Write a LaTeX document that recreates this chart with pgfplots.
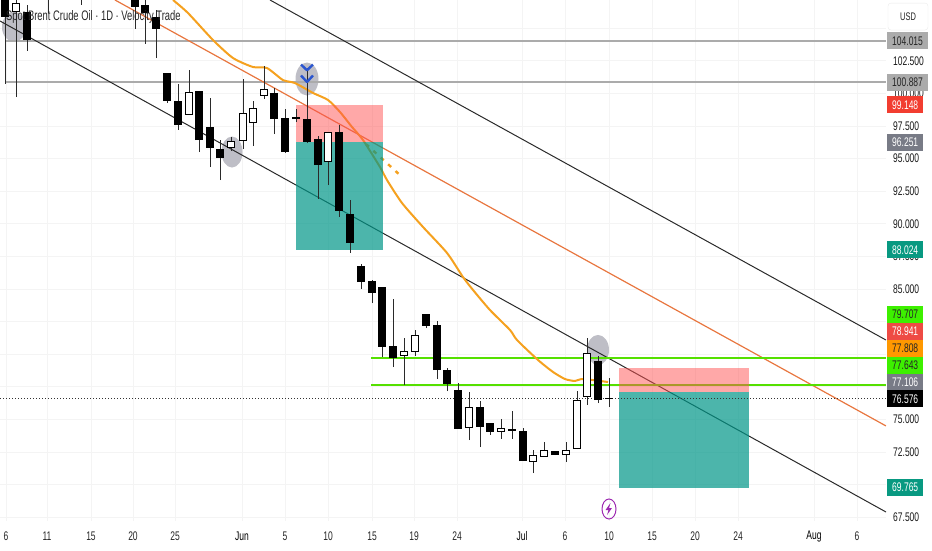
\documentclass[border=0pt]{standalone}
\usepackage{pgfplots}
\usepackage{pgfplotstable}
\usepackage{fontspec}
\setmainfont{Liberation Sans}[FakeStretch=0.68]
\pgfplotsset{compat=1.18}
\definecolor{gridc}{HTML}{F4F4F4}
\definecolor{wick}{HTML}{2A2A2A}
\definecolor{ma}{HTML}{F5A11F}
\definecolor{chan}{HTML}{E8763F}
\definecolor{lime}{HTML}{55E000}
\definecolor{greyl}{HTML}{ABABAB}
\definecolor{bluec}{HTML}{2A55D0}
\definecolor{purp}{HTML}{9C27B0}
\definecolor{teal2}{HTML}{009688}
\definecolor{red2}{HTML}{FF5252}
\definecolor{blob}{HTML}{BEBEC6}
\definecolor{lblgreen}{HTML}{089981}
\definecolor{lblgrey}{HTML}{787B86}
\definecolor{lblred}{HTML}{F23D30}
\definecolor{lblred2}{HTML}{EE4B44}
\definecolor{lblorange}{HTML}{FF9800}
\definecolor{lbllime}{HTML}{3DF000}
\pgfplotstableread{
x top bot hi lo
5 108.00 105.87 108.50 100.73
27 106.25 104.10 106.79 103.26
48 110 108 110 106.17
81 110 108 110 106.79
135 107.40 106.63 108.00 104.95
145 106.79 106.17 108.00 103.80
156 105.87 104.95 106.40 102.72
167 101.57 99.42 101.57 99.27
178 99.42 97.58 100.73 97.20
199 100.19 96.43 100.19 95.51
210 97.43 95.82 99.65 94.36
220 95.74 95.05 96.43 93.36
274 100.04 98.04 100.42 96.89
285 98.12 95.51 98.81 95.44
296 98.16 98.04 98.81 97.81
307 98.04 96.28 101.95 96.20
318 96.51 94.51 96.74 91.91
339 97.05 90.99 97.58 90.53
350 90.76 88.53 91.83 87.77
361 86.77 85.54 86.92 85.00
372 85.62 84.70 85.69 83.93
382 85.16 80.56 85.16 79.79
393 80.63 79.71 84.24 79.02
426 83.09 82.17 83.09 82.01
437 82.24 78.79 82.55 78.10
447 78.79 77.72 78.94 77.18
458 77.26 74.27 77.79 74.27
480 75.95 74.42 76.41 72.88
490 74.73 74.04 74.73 73.81
512 74.23 74.15 75.65 73.50
523 74.11 71.81 74.34 71.81
555 72.58 72.27 72.58 72.27
598 79.48 76.49 79.86 76.26
609 76.68 76.60 78.18 75.95
}\blackT
\pgfplotstableread{
x top bot hi lo
16 106.94 106.25 108.00 99.73
189 100.11 98.35 101.80 98.35
231 96.36 95.82 96.66 95.59
243 98.50 96.36 101.11 95.74
253 98.89 97.74 99.42 95.97
264 100.34 99.81 102.11 99.58
328 97.05 94.74 97.05 92.98
404 80.25 79.86 81.25 77.64
415 81.48 80.17 81.86 79.86
469 75.95 74.34 77.10 73.42
501 74.34 74.04 75.03 73.50
533 72.27 71.73 72.66 70.89
544 72.66 72.12 73.27 72.12
566 72.66 72.27 73.27 71.73
577 76.49 72.73 77.18 72.73
587 80.09 76.72 81.25 76.11
}\whiteT
\newcommand{\pricebox}[4]{\node[fill=#2,text=#3,anchor=west,inner xsep=5pt,inner ysep=0pt,minimum height=17pt,font=\fontsize{12.5}{14}\selectfont] at (axis cs:887,#1) {#4};}
\begin{document}
\begin{tikzpicture}
\useasboundingbox (0,0) rectangle (932pt,550pt);
\begin{axis}[
  at={(0pt,29pt)}, anchor=south west,
  width=886pt, height=521pt, scale only axis,
  xmin=0, xmax=886, ymin=67.21, ymax=107.17,
  clip mode=individual,
  axis line style={draw=none},
  major tick length=0pt,
  tick style={draw=none},
  grid=major,
  grid style={gridc, line width=0.9pt},
  xtick={6,47,91,133,175,242,285,328,372,414,457,522,565,609,652,695,738,814,857},
  xticklabels={6,11,15,20,25,{\color{black}Jun},5,10,15,19,24,{\color{black}Jul},6,10,15,20,24,{\color{black}Aug},6},
  ytick={67.5,72.5,75,85,87.5,90,92.5,95,97.5,100,102.5},
  extra y ticks={70,77.5,80,82.5,105},
  extra y tick labels={},
  extra tick style={grid=major, grid style={gridc, line width=0.9pt}},
  yticklabel pos=right,
  yticklabel style={anchor=west, inner sep=0pt, xshift=7pt, text=black!90,
    font=\fontsize{12.5}{14}\selectfont,
    /pgf/number format/.cd, fixed, fixed zerofill, precision=3, assume math mode=true, 1000 sep={}},
  xticklabel style={anchor=center, inner sep=0pt, yshift=-15.5pt, text=black!85, font=\fontsize{12.5}{14}\selectfont},
]
% highlights
\fill[blob] (axis cs:14,105.10) ellipse [x radius=12pt, y radius=15pt];
\fill[blob] (axis cs:232,95.51) ellipse [x radius=10.5pt, y radius=15.5pt];
\fill[blob] (axis cs:307,101.11) ellipse [x radius=11.5pt, y radius=16.5pt];
\fill[blob] (axis cs:598,80.33) ellipse [x radius=11pt, y radius=15pt];
% horizontal levels and channel lines
\addplot[greyl, line width=1.5pt] coordinates {(5,104.015)(886,104.015)};
\addplot[greyl, line width=1.5pt] coordinates {(5,100.887)(886,100.887)};
\addplot[chan, line width=1.2pt] coordinates {(115,107.17)(886,74.50)};
\addplot[wick, line width=1pt] coordinates {(270,107.17)(886,81.09)};
\addplot[wick, line width=1pt] coordinates {(0,105.56)(886,67.90)};
\addplot[lime, line width=1.6pt] coordinates {(371,79.707)(886,79.707)};
\addplot[lime, line width=1.6pt] coordinates {(371,77.643)(886,77.643)};
% moving average
\addplot[ma, line width=2pt, line join=round, smooth, tension=0.4] coordinates {
(173,107.17)(188,106.17)(213,104.10)(233,102.72)(253,102.03)(267,101.95)(283,101.03)(295,100.80)
(313,100.04)(328,99.50)(340,98.58)(352,97.43)(363,96.43)(380,94.36)(387,93.36)(402,91.60)(423,89.76)
(447,87.77)(463,85.92)(473,84.93)(490,83.39)(510,81.86)(517,81.09)(538,79.56)(553,78.64)(565,78.10)
(575,77.95)(583,78.10)(608,77.87)};
\addplot[ma, line width=2.4pt, dash pattern=on 4pt off 6pt] coordinates {(366,96.12)(401,93.67)};
% position boxes
\addplot[fill=red2, fill opacity=0.5, draw=none] coordinates {(296,99.148)(383,99.148)(383,96.251)(296,96.251)} --cycle;
\addplot[fill=teal2, fill opacity=0.7, draw=none] coordinates {(296,96.251)(383,96.251)(383,88.024)(296,88.024)} --cycle;
\addplot[fill=red2, fill opacity=0.5, draw=none] coordinates {(619,78.941)(749,78.941)(749,77.106)(619,77.106)} --cycle;
\addplot[fill=teal2, fill opacity=0.7, draw=none] coordinates {(619,77.106)(749,77.106)(749,69.765)(619,69.765)} --cycle;
% last price
\addplot[black!80, line width=0.9pt, dash pattern=on 1pt off 2pt] coordinates {(0,76.576)(886,76.576)};
% candles
\addplot[draw=none, mark=none, forget plot, error bars/.cd, y dir=plus, y explicit, error mark=none,
  error bar style={line width=1pt, draw=wick}]
  table[x=x, y=lo, y error plus expr=\thisrow{hi}-\thisrow{lo}] {\blackT};
\addplot[draw=none, mark=none, forget plot, error bars/.cd, y dir=plus, y explicit, error mark=none,
  error bar style={line width=1pt, draw=wick}]
  table[x=x, y=lo, y error plus expr=\thisrow{hi}-\thisrow{lo}] {\whiteT};
\addplot[draw=none, mark=none, forget plot, error bars/.cd, y dir=plus, y explicit, error mark=none,
  error bar style={line width=8pt, draw=black}]
  table[x=x, y=bot, y error plus expr=\thisrow{top}-\thisrow{bot}] {\blackT};
\addplot[draw=none, mark=none, forget plot, error bars/.cd, y dir=plus, y explicit, error mark=none,
  error bar style={line width=8pt, draw=black}]
  table[x=x, y=bot, y error plus expr=\thisrow{top}-\thisrow{bot}] {\whiteT};
\addplot[draw=none, mark=none, forget plot, error bars/.cd, y dir=plus, y explicit, error mark=none,
  error bar style={line width=6pt, draw=white}]
  table[x=x, y expr=\thisrow{bot}+0.09, y error plus expr=\thisrow{top}-\thisrow{bot}-0.18] {\whiteT};
% chevrons
\addplot[bluec, line width=2.4pt, line join=bevel] coordinates {(301,102.22)(307,101.78)(313,102.22)};
\addplot[bluec, line width=2.4pt, line join=bevel] coordinates {(301,101.38)(307,100.88)(313,101.38)};
% lightning
\draw[purp, line width=1pt] (axis cs:609,68.13) ellipse [x radius=7pt, y radius=10pt];
\fill[purp] (axis cs:609,68.13) ++(1.5pt,6pt) -- ++(-5pt,-7pt) -- ++(3pt,0pt) -- ++(-1.5pt,-5pt) -- ++(5pt,7pt) -- ++(-3pt,0pt) -- cycle;
% title
\node[anchor=west, inner sep=0pt, text=black!85, font=\fontsize{13.8}{15}\selectfont] at (axis cs:6,105.87) {Spot Brent Crude Oil · 1D · Velocity Trade};
% price scale labels
\pricebox{104.03}{greyl}{black!85}{104.015}
\pricebox{100.84}{greyl}{black!85}{100.887}
\pricebox{99.12}{lblred}{white}{99.148}
\pricebox{96.24}{lblgrey}{white}{96.251}
\pricebox{88.00}{lblgreen}{white}{88.024}
\pricebox{83.05}{lbllime}{black!85}{79.707}
\pricebox{81.74}{lblred2}{white}{78.941}
\pricebox{80.44}{lblorange}{black!85}{77.808}
\pricebox{79.14}{lbllime}{black!85}{77.643}
\pricebox{77.83}{lblgrey}{white}{77.106}
\pricebox{76.57}{black}{white}{76.576}
\pricebox{69.78}{lblgreen}{white}{69.765}
\node[draw=black!8, fill=white, rounded corners=3pt, minimum width=40pt, minimum height=27pt, inner sep=0pt, font=\fontsize{11}{12}\selectfont, text=black!85] at (axis cs:908,105.90) {USD};
\end{axis}
\end{tikzpicture}
\end{document}
